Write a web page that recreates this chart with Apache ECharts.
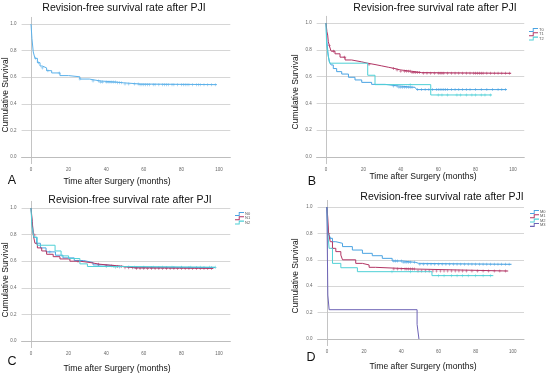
<!DOCTYPE html>
<html><head><meta charset="utf-8">
<script src="https://cdn.jsdelivr.net/npm/echarts@6/dist/echarts.min.js"></script>
<style>html,body{margin:0;padding:0;background:#fff}#c{width:550px;height:375px}</style>
</head><body><div id="c"></div>
<script>
// ---- data ----
const xTicks = [0, 20, 40, 60, 80, 100];
const yTicks = [0, 0.2, 0.4, 0.6, 0.8, 1.0];
const titleText = 'Revision-free survival rate after PJI';
const xTitle = 'Time after Surgery (months)';
const yTitle = 'Cumulative Survival';
const panelLetters = ['A', 'B', 'C', 'D'];

// Panel A: all patients
const allCurve = [[0,1.0],[0.5,0.89],[1.2,0.79],[2.1,0.742],[3.4,0.709],[4.8,0.684],[6,0.67],[8.3,0.649],[11,0.632],[15.4,0.612],[20,0.603],[26,0.586],[31,0.572],[36.7,0.563],[45.6,0.558],[49,0.549],[58,0.544],[98.8,0.544]];
const allCensor = [2.5,4,6,9,15,26,33,36,37,38,40,41,42,43,44,45,46,47,48,50,52,55,57,58,59,60,61,62,63,65,66,68,70,71,72,73,75,76,78,80,81,82,83,84,86,88,89,90,92,94,96,98];

// Panel B: T stage
const t0Curve = [[0,1.0],[0.4,0.873],[0.9,0.80],[1.25,0.75],[1.8,0.71],[2.7,0.687],[3.9,0.66],[5.7,0.637],[8.4,0.619],[12,0.595],[15.5,0.575],[19.1,0.557],[24.4,0.542],[31.6,0.53],[38.7,0.52],[47.6,0.51],[48.5,0.503],[96.6,0.503]];
const t1Curve = [[0,1.0],[0.5,0.935],[0.9,0.91],[1.25,0.86],[1.8,0.83],[2.7,0.79],[4.8,0.77],[7.5,0.745],[10.2,0.724],[13.7,0.71],[19.1,0.70],[22.3,0.69],[26.2,0.68],[29.8,0.67],[33.3,0.66],[36.9,0.65],[39.6,0.64],[45.8,0.63],[51.2,0.625],[99,0.625]];
const t2Curve = [[0,1.0],[0.3,0.85],[1.0,0.77],[2.0,0.70],[22.3,0.61],[26.2,0.54],[56,0.463],[88.6,0.463]];
const t0Censor = [36,38,39,40,41,42,43,44,45,46,49,51,53,55,57,59,60,61,62,63,64,65,67,69,71,73,75,77,80,83,86,89,92,94,96];
const t1Censor = [1.8,4,10,23,36,38,40,42,43,44,45,46,47,48,49,50,52,54,56,58,60,61,62,63,65,67,69,71,73,75,77,79,80,81,82,83,84,86,88,90,92,94,96,98];
const t2Censor = [45,60,62,65,70,72,75,78,80,83,85,88];

// Panel C: N stage
const n0Curve = [[0,1.0],[0.5,0.9],[1.5,0.78],[3,0.735],[5,0.70],[8,0.67],[13,0.645],[17,0.625],[23,0.605],[28,0.59],[33,0.572],[40,0.562],[47,0.556],[55,0.552],[98,0.552]];
const n1Curve = [[0,1.0],[0.7,0.897],[1.2,0.797],[2.1,0.735],[3.4,0.70],[5.7,0.677],[8.3,0.652],[11.8,0.634],[15.4,0.617],[20.7,0.60],[26,0.59],[31.4,0.577],[36.7,0.566],[45.6,0.561],[49,0.551],[54.4,0.546],[97,0.546]];
const n2Curve = [[0,1.0],[0.5,0.86],[1.5,0.78],[3.3,0.72],[12.8,0.677],[16,0.64],[20,0.62],[26,0.58],[30,0.56],[45,0.555],[98,0.555]];
const n0Censor = [3,10,36,40,44,47,52,56,60,64,68,72,76,80,84,88,92,96];
const n1Censor = [2,25,36,40,43,46,48,50,52,54,56,58,60,62,64,66,68,70,72,74,76,78,80,82,84,86,88,90,92,94,96];
const n2Censor = [45,55,60,65,70,75,80,85,90,95,98];

// Panel D: M stage
const m0Curve = [[0,1.0],[0.4,0.864],[0.9,0.80],[1.8,0.763],[3.0,0.737],[4.8,0.725],[8.4,0.70],[13.7,0.674],[19.1,0.649],[24.4,0.631],[29.8,0.611],[35.1,0.591],[40.5,0.581],[47.6,0.573],[49.4,0.566],[99.3,0.566]];
const m1Curve = [[0,1.0],[0.5,0.914],[0.9,0.80],[1.8,0.737],[3.0,0.687],[4.8,0.662],[7.5,0.636],[8.4,0.60],[15.5,0.573],[19.1,0.561],[22.7,0.543],[26.2,0.53],[47.6,0.523],[48.5,0.515],[97.5,0.515]];
const m2Curve = [[0,1.0],[0.4,0.813],[1.2,0.687],[3.0,0.573],[7.5,0.54],[16.4,0.51],[56.5,0.48],[89.5,0.48]];
const m3Curve = [[0,1.0],[0.5,0.333],[1.2,0.222],[48.5,0.111],[49.5,0.0]];
const m0Censor = [2,36,37,38,40,41,42,43,44,45,47,50,52,54,56,58,60,62,64,66,68,70,72,74,76,78,80,82,84,86,88,90,92,94,96,98];
const m1Censor = [1,3,36,38,40,42,43,44,45,46,47,49,51,53,55,57,59,61,63,65,67,69,71,73,75,78,81,84,87,90,93,96];
const m2Censor = [35,45,60,63,67,70,73,76,80,84,88];

// ---- styling / layout ----
const C_BLUE = '#4aa3e2', C_RED = '#b23564', C_CYAN = '#4fd0d6', C_PURPLE = '#6d63b6', C_LIGHT = '#5cb1ea';
const colorOf = {T0: C_BLUE, T1: C_RED, T2: C_CYAN, N0: C_BLUE, N1: C_RED, N2: C_CYAN, M0: C_BLUE, M1: C_RED, M2: C_CYAN, M3: C_PURPLE};
const grids = [
  {left: 21.6, top: 17.35, width: 208.7, height: 146.3},
  {left: 316.65, top: 16.3, width: 207.6, height: 147.4},
  {left: 21.6, top: 201.35, width: 208.7, height: 146.3},
  {left: 317.6, top: 200.4, width: 206.4, height: 145.2}
];

function stepAt(curve, t) {
  let v = curve[0][1];
  for (const p of curve) { if (p[0] <= t) v = p[1]; }
  return v;
}
const plusPath = 'path://M4,0h2v10h-2z M0,4h10v2h-10z';

const series = [];
function addCurve(gi, name, curve, censor, color) {
  series.push({
    type: 'line', name: name, step: 'end', xAxisIndex: gi, yAxisIndex: gi,
    data: curve, showSymbol: false, silent: true, animation: false,
    lineStyle: {color: color, width: 1}, itemStyle: {color: color}
  });
  series.push({
    type: 'scatter', name: name + '_c', xAxisIndex: gi, yAxisIndex: gi,
    data: censor.map(t => [t, stepAt(curve, t)]),
    symbol: plusPath, symbolSize: 3, silent: true, animation: false,
    itemStyle: {color: color}
  });
}
addCurve(0, 'All', allCurve, allCensor, C_LIGHT);
addCurve(1, 'T0', t0Curve, t0Censor, C_BLUE);
addCurve(1, 'T1', t1Curve, t1Censor, C_RED);
addCurve(1, 'T2', t2Curve, t2Censor, C_CYAN);
addCurve(2, 'N0', n0Curve, n0Censor, C_BLUE);
addCurve(2, 'N1', n1Curve, n1Censor, C_RED);
addCurve(2, 'N2', n2Curve, n2Censor, C_CYAN);
addCurve(3, 'M0', m0Curve, m0Censor, C_BLUE);
addCurve(3, 'M1', m1Curve, m1Censor, C_RED);
addCurve(3, 'M2', m2Curve, m2Censor, C_CYAN);
addCurve(3, 'M3', m3Curve, [], C_PURPLE);

const xAxes = grids.map((g, i) => ({
  type: 'value', gridIndex: i, min: -5, max: 106,
  axisLine: {show: true, lineStyle: {color: '#bdbdbd', width: 1}},
  axisTick: {show: false, customValues: xTicks},
  splitLine: {show: false},
  axisLabel: {customValues: xTicks, fontSize: 4.5, color: '#666', margin: 4, fontFamily: 'Liberation Sans'}
}));
const yAxes = grids.map((g, i) => ({
  type: 'value', gridIndex: i, min: -0.05, max: 1.05,
  axisLine: {show: true, lineStyle: {color: '#c4c4c4', width: 1}},
  axisTick: {show: false, customValues: yTicks},
  splitLine: {show: true, lineStyle: {color: '#d6d6d6', width: 1}},
  axisLabel: {customValues: yTicks, fontSize: 4.5, color: '#666', margin: 5, fontFamily: 'Liberation Sans',
    formatter: v => v.toFixed(1)}
}));

const legendIcon = 'path://M0,7 L10,7 L10,0 L24,0 L24,2.5 L12.5,2.5 L12.5,9.5 L0,9.5 Z';
function legend(names, left, top) {
  return {
    data: names.map(n => ({name: n, icon: legendIcon, itemStyle: {color: colorOf[n], borderWidth: 0}})),
    left: left, top: top, orient: 'vertical', itemWidth: 9, itemHeight: 4, itemGap: 0.3,
    selectedMode: false, padding: 0, symbolKeepAspect: false,
    textStyle: {fontSize: 4, lineHeight: 4, color: '#555', fontFamily: 'Liberation Sans', padding: [0, 0, 0, -4]}
  };
}

const font = 'Liberation Sans, Arial, sans-serif';
function txt(text, x, y, size, rot) {
  return {type: 'text', x: x, y: y, rotation: rot || 0, silent: true,
    style: {text: text, fontSize: size, fontFamily: font, fill: '#111', align: 'center', verticalAlign: 'middle'}};
}
const titlePos = [[124, 8], [435, 8], [130, 200], [442, 197]];
const xTitlePos = [[117, 182], [423, 177], [117, 369], [423, 367]];
const yTitlePos = [[6, 95], [296, 92], [6, 280], [296, 276]];
const letterPos = [[12, 181], [312, 182], [12, 362], [311, 358]];
const graphics = [];
for (let i = 0; i < 4; i++) {
  graphics.push(txt(titleText, titlePos[i][0], titlePos[i][1], 10.5));
  graphics.push(txt(xTitle, xTitlePos[i][0], xTitlePos[i][1], 8.6));
  graphics.push(txt(yTitle, yTitlePos[i][0], yTitlePos[i][1], 8.5, Math.PI / 2));
  graphics.push(txt(panelLetters[i], letterPos[i][0], letterPos[i][1], 12.5));
}

const chart = echarts.init(document.getElementById('c'), null, {renderer: 'canvas'});
chart.setOption({
  animation: false,
  backgroundColor: '#fff',
  grid: grids.map(g => Object.assign({containLabel: false}, g)),
  xAxis: xAxes,
  yAxis: yAxes,
  legend: [legend(['T0', 'T1', 'T2'], 529, 28), legend(['N0', 'N1', 'N2'], 235, 212), legend(['M0', 'M1', 'M2', 'M3'], 530, 210)],
  graphic: graphics,
  series: series
});
</script></body></html>
